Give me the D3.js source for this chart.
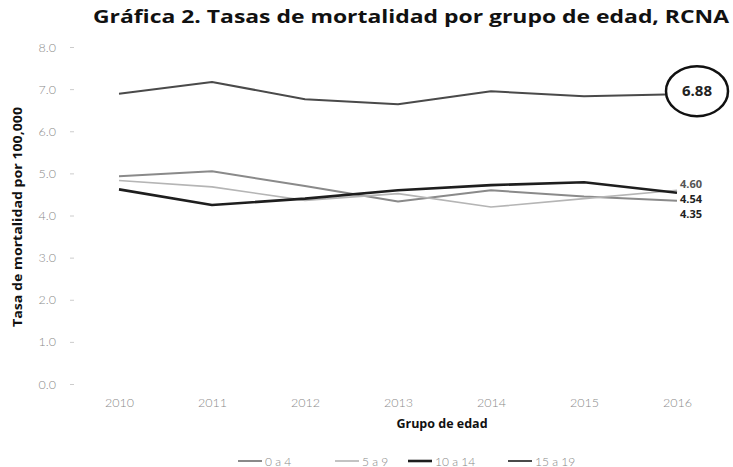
<!DOCTYPE html>
<html><head><meta charset="utf-8">
<script src="https://d3js.org/d3.v7.min.js"></script>
<style>body{margin:0;background:#fff}svg{display:block}</style>
</head><body>
<script>
const years = ["2010","2011","2012","2013","2014","2015","2016"];
const seriesNames = ["0 a 4","5 a 9","10 a 14","15 a 19"];
const v0a4   = [4.93, 5.05, 4.70, 4.33, 4.60, 4.45, 4.35];
const v5a9   = [4.83, 4.68, 4.36, 4.52, 4.20, 4.40, 4.60];
const v10a14 = [4.62, 4.25, 4.40, 4.60, 4.72, 4.79, 4.54];
const v15a19 = [6.89, 7.17, 6.76, 6.64, 6.95, 6.83, 6.88];
const yTicks = [0,1,2,3,4,5,6,7,8];
const endLabels = ["4.60","4.54","4.35"];
const highlight = "6.88";

const W=733,H=467;
const svg=d3.select("body").append("svg").attr("width",W).attr("height",H);
const x=d3.scalePoint().domain(years).range([119,677]);
const y=d3.scaleLinear().domain([0,8]).range([384,47]);

const series=[
 {name:seriesNames[0],vals:v0a4,color:"#8a8a8a",w:2},
 {name:seriesNames[1],vals:v5a9,color:"#b5b5b5",w:1.6},
 {name:seriesNames[2],vals:v10a14,color:"#1e1e1e",w:2.6},
 {name:seriesNames[3],vals:v15a19,color:"#4a4a4a",w:2}
];

// title
svg.append("text").attr("x",411).attr("y",23).attr("text-anchor","middle")
 .attr("font-family","'Open Sans',sans-serif").attr("font-weight",700).attr("font-size",17.5)
 .attr("textLength",636).attr("lengthAdjust","spacingAndGlyphs").attr("fill","#111")
 .text("Gráfica 2. Tasas de mortalidad por grupo de edad, RCNA");

// y axis
const ya=svg.append("g").attr("transform","translate(74,0)")
 .call(d3.axisLeft(y).tickValues(yTicks).tickFormat(d3.format(".1f")).tickSize(4).tickPadding(14));
ya.select(".domain").remove();
ya.selectAll("line").attr("stroke","#ccc");
ya.selectAll("text").attr("font-family","Lato,'DejaVu Sans',sans-serif").attr("font-size",12.5)
 .attr("fill","#8a8a8a").attr("font-weight",300);

// x axis
const xa=svg.append("g").attr("transform","translate(0,390)")
 .call(d3.axisBottom(x).tickSize(0).tickPadding(8));
xa.select(".domain").remove();
xa.selectAll("text").attr("font-family","Lato,'DejaVu Sans',sans-serif").attr("font-size",12.5)
 .attr("fill","#8a8a8a").attr("font-weight",300);

// axis titles
svg.append("text").attr("transform","translate(22,217) rotate(-90)").attr("text-anchor","middle")
 .attr("font-family","'Open Sans',sans-serif").attr("font-weight",700).attr("font-size",12)
 .attr("textLength",220).attr("lengthAdjust","spacingAndGlyphs")
 .attr("fill","#111").text("Tasa de mortalidad por 100,000");
svg.append("text").attr("x",442).attr("y",428).attr("text-anchor","middle")
 .attr("font-family","'Open Sans',sans-serif").attr("font-weight",700).attr("font-size",12.5)
 .attr("fill","#111").text("Grupo de edad");

// lines
const line=d3.line().x((d,i)=>x(years[i])).y(d=>y(d)).curve(d3.curveLinear);
series.forEach(s=>{
 svg.append("path").datum(s.vals).attr("d",line).attr("fill","none")
  .attr("stroke",s.color).attr("stroke-width",s.w).attr("stroke-linejoin","round");
});

// end labels
const lx=x("2016")+3;
const base=y(4.60)-2.5;
endLabels.forEach((t,i)=>{
 svg.append("text").attr("x",lx).attr("y",base+i*15)
  .attr("font-family","'Open Sans',sans-serif").attr("font-weight",700).attr("font-size",11)
  .attr("fill",i===0?"#555":"#222").text(t);
});

// highlighted circle
const cx=x("2016")+20, cy=y(6.88)-3;
svg.append("ellipse").attr("cx",cx).attr("cy",cy).attr("rx",31).attr("ry",25)
 .attr("fill","#fff").attr("stroke","#111").attr("stroke-width",2.5);
svg.append("text").attr("x",cx).attr("y",cy+5).attr("text-anchor","middle")
 .attr("font-family","'Open Sans',sans-serif").attr("font-weight",700).attr("font-size",15)
 .attr("fill","#222").text(highlight);

// legend
const legX=[238,335,408,508];
const lg=svg.append("g").attr("transform","translate(0,461)");
series.forEach((s,i)=>{
 lg.append("line").attr("x1",legX[i]).attr("x2",legX[i]+24).attr("y1",0).attr("y2",0)
  .attr("stroke",s.color).attr("stroke-width",s.w);
 lg.append("text").attr("x",legX[i]+27).attr("y",4.5)
  .attr("font-family","Lato,'DejaVu Sans',sans-serif").attr("font-size",12).attr("font-weight",300)
  .attr("fill","#888").text(s.name);
});
</script>
</body></html>
